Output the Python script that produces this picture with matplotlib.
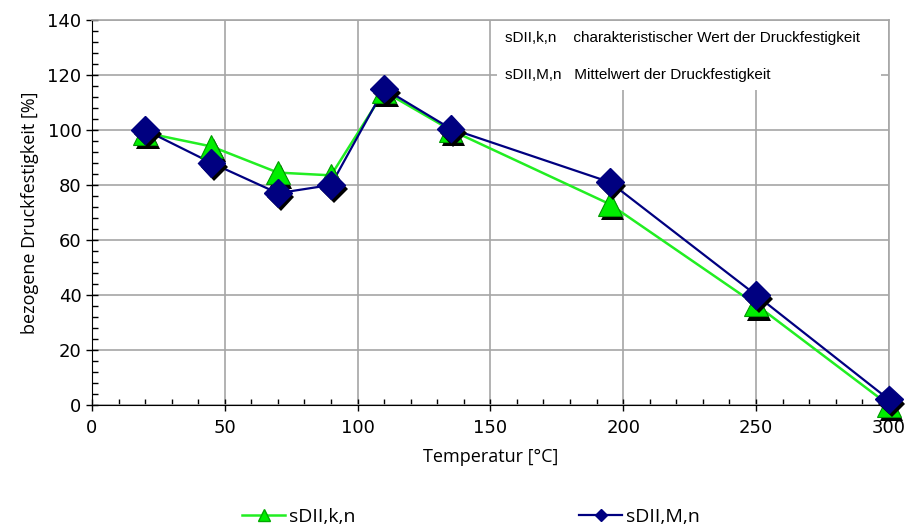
import numpy as np
import matplotlib.pyplot as plt
import matplotlib.patheffects as pe
from matplotlib.ticker import MultipleLocator
from matplotlib.patches import Rectangle

# temperature steps [degC]
temp = [20, 45, 70, 90, 110, 135, 195, 250, 300]
# bezogene Druckfestigkeit [%]
s_k = [99, 94, 84.5, 83.5, 114, 100, 73, 36.5, 0]
s_m = [100, 88, 77, 80, 115, 100.5, 81, 40, 2]

green = '#22ee22'
navy = '#000080'

fig = plt.figure(figsize=(9.06, 5.25), dpi=100)
ax = fig.add_axes([0.1015, 0.2286, 0.8795, 0.7334])

ax.set_xlim(0, 300)
ax.set_ylim(0, 140)
ax.xaxis.set_major_locator(MultipleLocator(50))
ax.xaxis.set_minor_locator(MultipleLocator(10))
ax.yaxis.set_major_locator(MultipleLocator(20))
ax.yaxis.set_minor_locator(MultipleLocator(4))
ax.tick_params(which='major', direction='inout', length=8, width=1, labelsize=13, colors='black')
ax.tick_params(which='minor', direction='in', length=4, width=1)
ax.tick_params(axis='x', pad=6)
ax.grid(True, which='major', color='#a6a6a6', linewidth=1.2, zorder=0)
ax.set_axisbelow(True)
for s in ['top', 'right']:
    ax.spines[s].set_color('#a6a6a6')
    ax.spines[s].set_linewidth(1.2)

# white panel for the explanation text
ax.add_patch(Rectangle((152.5, 114.5), 144.5, 25.2, facecolor='white', edgecolor='none', zorder=1))
ax.text(155.5, 133.5, 'sDII,k,n    charakteristischer Wert der Druckfestigkeit',
        fontsize=11, family='Liberation Sans', va='center', zorder=2)
ax.text(155.5, 120, 'sDII,M,n   Mittelwert der Druckfestigkeit',
        fontsize=11, family='Liberation Sans', va='center', zorder=2)

shadow = [pe.SimplePatchShadow(offset=(2, -3), shadow_rgbFace='black', alpha=1.0), pe.Normal()]

ax.plot(temp, s_k, color=green, lw=1.8, zorder=3, clip_on=False)
ax.plot(temp, s_m, color=navy, lw=1.6, zorder=4, clip_on=False)
ax.plot(temp, s_k, ls='none', marker='^', ms=17, mfc='#00ee00', mec='#009900', mew=0.8,
        zorder=5, clip_on=False, path_effects=shadow)
ax.plot(temp, s_m, ls='none', marker='D', ms=14, mfc=navy, mec=navy,
        zorder=6, clip_on=False, path_effects=shadow)

ax.set_xlabel('Temperatur [°C]', fontsize=13, family='Open Sans', labelpad=8)
ax.set_ylabel('bezogene Druckfestigkeit [%]', fontsize=13, family='Open Sans', labelpad=6)

# legend handles
h1, = ax.plot([], [], color=green, lw=1.8, marker='^', ms=9, mfc='#00ee00', mec='#00aa00')
h2, = ax.plot([], [], color=navy, lw=1.6, marker='D', ms=6, mfc=navy, mec=navy)
fig.legend([h1, h2], ['sDII,k,n', 'sDII,M,n'], loc='lower center', ncol=2, frameon=False,
           bbox_to_anchor=(0.52, -0.035), columnspacing=11.5, handlelength=2.2, handletextpad=0.2,
           prop={'family': 'Open Sans', 'size': 14})

fig.savefig('out.png', dpi=100)
